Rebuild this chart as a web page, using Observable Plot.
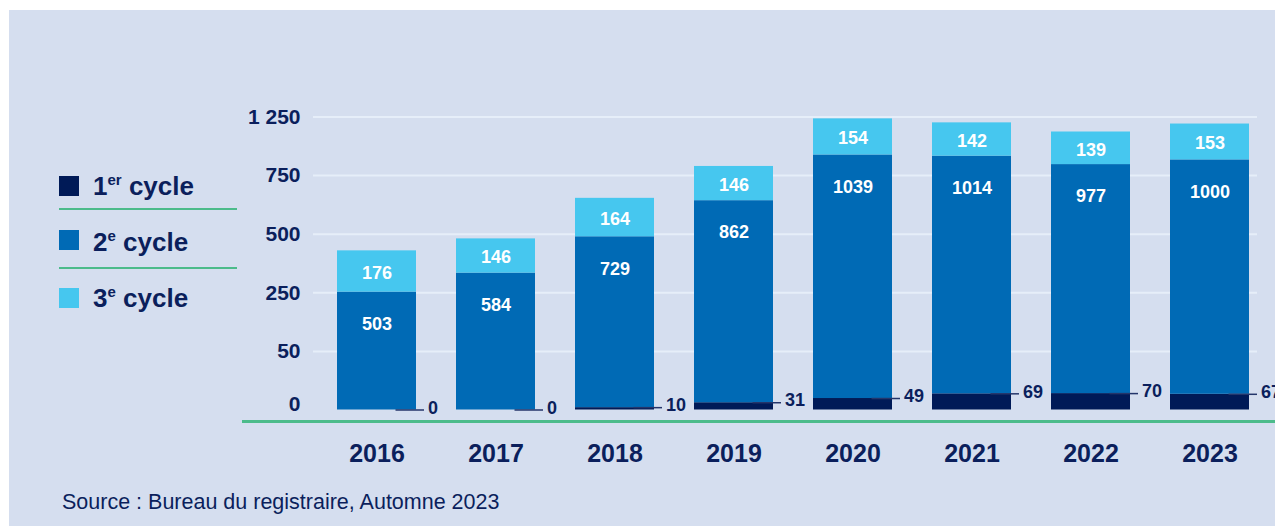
<!DOCTYPE html>
<html><head><meta charset="utf-8">
<script src="https://cdn.jsdelivr.net/npm/d3@7"></script>
<script src="https://cdn.jsdelivr.net/npm/@observablehq/plot@0.6"></script>
<style>
html,body{margin:0;padding:0;background:#fff;}
body{width:1275px;height:526px;position:relative;overflow:hidden;font-family:"Liberation Sans",Arial,sans-serif;}
#panel{position:absolute;left:9px;top:10px;right:0;bottom:0;background:#d5deef;}
#chart{position:absolute;left:0;top:0;width:1275px;height:526px;}
.leg-sw{position:absolute;left:59px;width:20px;height:20px;}
.leg-tx{position:absolute;left:93px;font-size:26px;font-weight:bold;color:#0b1f5c;line-height:26px;white-space:nowrap;}
.leg-tx sup{font-size:15px;vertical-align:10px;line-height:0;}
.sep{position:absolute;left:59px;width:178px;height:2px;background:#4cbb8b;}
#base{position:absolute;left:242px;right:0;top:420px;height:2.5px;background:#4cbb8b;}
#source{position:absolute;left:62px;top:492px;font-size:21.5px;line-height:21px;color:#0b1f5c;white-space:nowrap;}
</style>
</head>
<body>
<div id="panel"></div>
<div id="base"></div>
<div id="chart"></div>
<div id="legend"></div>
<div id="source">Source : Bureau du registraire, Automne 2023</div>
<script>
const years = ["2016","2017","2018","2019","2020","2021","2022","2023"];
const cycles = ["1er cycle","2e cycle","3e cycle"];
const cycleNum = ["1","2","3"];
const cycleSup = ["er","e","e"];
const colors = ["#001a57","#006ab5","#46c7ef"];
const firstCycle = [0,0,10,31,49,69,70,67];
const secondCycle = [503,584,729,862,1039,1014,977,1000];
const thirdCycle = [176,146,164,146,154,142,139,153];
const yTickValues = [0,250,500,750,1000,1250];
const yTickLabels = ["0","50","250","500","750","1 250"];

const navy = "#0b1f5c";
const series = [firstCycle, secondCycle, thirdCycle];
const rows = years.flatMap((yr, i) => cycles.map((c, k) => ({year: yr, cycle: c, value: series[k][i]})));
const fmtY = d => yTickLabels[yTickValues.indexOf(d)];

const plot = Plot.plot({
  width: 1275, height: 526,
  marginLeft: 317, marginRight: 6, marginTop: 116.5, marginBottom: 116.5,
  style: {background: "transparent", fontFamily: "'Liberation Sans', Arial, sans-serif", overflow: "visible"},
  x: {domain: years, paddingInner: 0.336, paddingOuter: 0.168, label: null},
  y: {domain: [0, 1250], label: null},
  color: {domain: cycles, range: colors},
  marks: [
    Plot.gridY(yTickValues.filter(d => d > 0), {stroke: "#e6eef9", strokeOpacity: 1, strokeWidth: 2, insetLeft: -4, insetRight: 12}),
    Plot.barY(rows, {x: "year", y: "value", fill: "cycle", order: cycles}),
    Plot.tickY(years, {x: d => d, y: (d, i) => firstCycle[i], stroke: "#24356a", strokeWidth: 1.5, dx: 8, insetLeft: 50.5}),
    Plot.text(years, {x: d => d, y: (d, i) => firstCycle[i], text: (d, i) => String(firstCycle[i]), dx: 51, dy: -2, textAnchor: "start", fill: navy, fontSize: 18, fontWeight: "bold"}),
    Plot.text(rows, Plot.stackY2({x: "year", y: "value", z: "cycle", order: cycles, text: d => d.cycle === cycles[1] ? String(d.value) : null, dy: 32, fill: "white", fontSize: 18, fontWeight: "bold"})),
    Plot.text(rows, Plot.stackY({x: "year", y: "value", z: "cycle", order: cycles, text: d => d.cycle === cycles[2] ? String(d.value) : null, dy: 1.5, fill: "white", fontSize: 18, fontWeight: "bold"})),
    Plot.axisY(yTickValues.filter(d => d > 0), {tickSize: 0, tickPadding: 17, tickFormat: fmtY, fontSize: 21, fontWeight: "bold", fill: navy, label: null}),
    Plot.axisY([0], {tickSize: 0, tickPadding: 17, tickFormat: fmtY, dy: -6, fontSize: 21, fontWeight: "bold", fill: navy, label: null}),
    Plot.axisX({tickSize: 0, tickPadding: 34, fontSize: 25, fontWeight: "bold", fill: navy, label: null})
  ]
});
document.getElementById("chart").appendChild(plot);

const legend = document.getElementById("legend");
const swTops = [176, 230, 288];
const txTops = [173, 229, 285];
cycles.forEach((c, k) => {
  const sw = document.createElement("div");
  sw.className = "leg-sw";
  sw.style.top = swTops[k] + "px";
  sw.style.background = colors[k];
  legend.appendChild(sw);
  const tx = document.createElement("div");
  tx.className = "leg-tx";
  tx.style.top = txTops[k] + "px";
  tx.innerHTML = cycleNum[k] + "<sup>" + cycleSup[k] + "</sup> cycle";
  legend.appendChild(tx);
});
[208, 267].forEach(t => {
  const s = document.createElement("div");
  s.className = "sep";
  s.style.top = t + "px";
  legend.appendChild(s);
});
</script>
</body></html>
